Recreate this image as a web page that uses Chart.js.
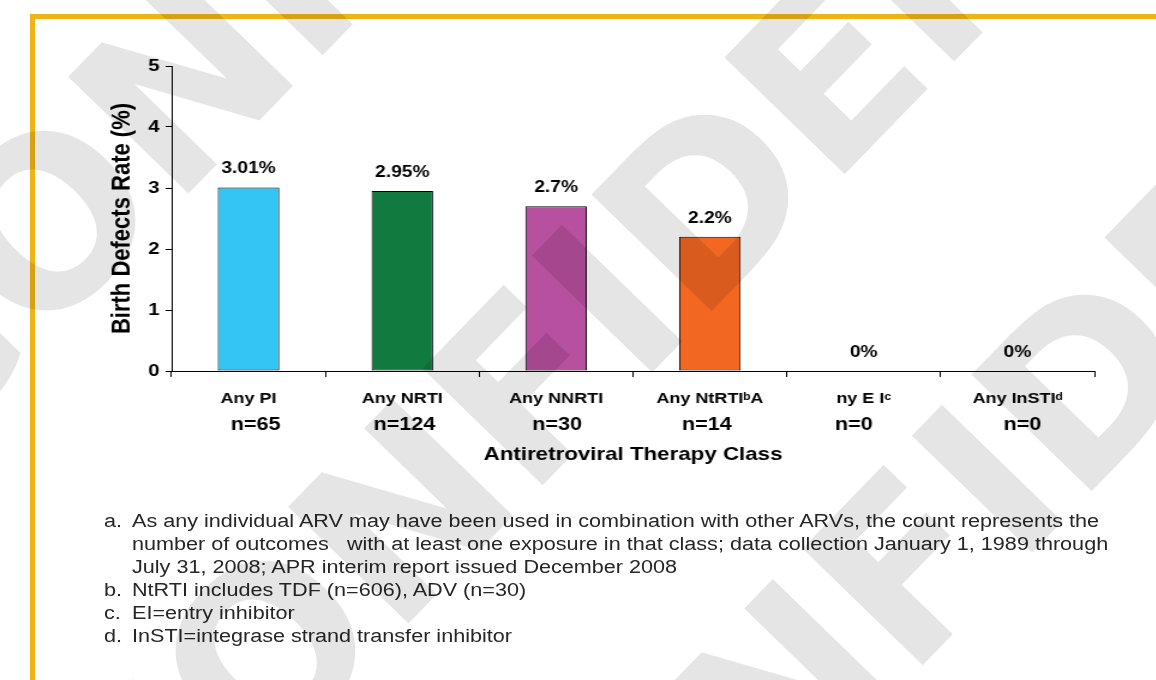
<!DOCTYPE html>
<html>
<head>
<meta charset="utf-8">
<script src="https://cdn.jsdelivr.net/npm/chart.js@4.4.1/dist/chart.umd.min.js"></script>
<style>
  html, body { margin: 0; padding: 0; background: #fff; }
  #page { position: relative; width: 1156px; height: 680px; overflow: hidden; background: #fff; }
  #stage { position: absolute; left: 0; top: 0; width: 963px; height: 680px; transform: scaleX(1.2); transform-origin: 0 0; }
  #c { position: absolute; left: 0; top: 0; width: 963px; height: 680px; }
  #notes { position: absolute; left: 86.7px; top: 509.5px; font-family: "Liberation Sans", Arial, sans-serif; font-size: 18px; line-height: 23px; color: #262626; white-space: nowrap; }
  .note { position: relative; padding-left: 23.3px; }
  .note .k { position: absolute; left: 0; top: 0; }
  .bline { position: absolute; background: #EFB516; }
  #wm { position: absolute; left: 0; top: 0; pointer-events: none; }
</style>
</head>
<body>
<div id="page">
  <div id="stage">
    <canvas id="c" width="963" height="680" style="width:963px;height:680px"></canvas>
    <div id="notes">
      <div class="note"><span class="k">a.</span>As any individual ARV may have been used in combination with other ARVs, the count represents the<br>number of outcomes&nbsp;&nbsp; with at least one exposure in that class; data collection January 1, 1989 through<br>July 31, 2008; APR interim report issued December 2008</div>
      <div class="note"><span class="k">b.</span>NtRTI includes TDF (n=606), ADV (n=30)</div>
      <div class="note"><span class="k">c.</span>EI=entry inhibitor</div>
      <div class="note"><span class="k">d.</span>InSTI=integrase strand transfer inhibitor</div>
    </div>
  </div>
  <div class="bline" style="left:30px;top:14px;width:1126px;height:5px"></div>
  <div class="bline" style="left:30px;top:14px;width:5px;height:666px"></div>
  <canvas id="wm" width="1156" height="680"></canvas>
</div>
<script>
// ---- data ----
const categories = [["Any PI"], ["Any NRTI"], ["Any NNRTI"], ["Any NtRTI\u1D47A"], ["ny E I\u1D9C"], ["Any InSTI\u1D48"]];
const rates = [3.01, 2.95, 2.7, 2.2, 0, 0];
const counts = [65, 124, 30, 14, 0, 0];
const yTicks = [0, 1, 2, 3, 4, 5];
const barColors = ["#33C6F4", "#117A3E", "#B7509F", "#F26722", "#999999", "#999999"];

const S = 1.2; // horizontal stretch of the stage
const nShift = [7, 2, 1, -3, -10, 5]; // small label nudges (screen px)
const FONT = '"Liberation Sans", Arial, Helvetica, sans-serif';

const valueLabels = {
  id: "valueLabels",
  afterDatasetsDraw(chart) {
    const ctx = chart.ctx;
    const meta = chart.getDatasetMeta(0);
    ctx.save();
    ctx.font = "bold 16px " + FONT;
    ctx.fillStyle = "#000";
    ctx.textAlign = "center";
    ctx.textBaseline = "alphabetic";
    meta.data.forEach((bar, i) => {
      ctx.fillText(rates[i] + "%", bar.x, bar.y - 14);
    });
    ctx.restore();
  }
};

const countLabels = {
  id: "countLabels",
  afterDraw(chart) {
    const ctx = chart.ctx;
    const xs = chart.scales.x;
    ctx.save();
    ctx.font = "bold 18px " + FONT;
    ctx.fillStyle = "#000";
    ctx.textAlign = "center";
    ctx.textBaseline = "alphabetic";
    counts.forEach((n, i) => {
      ctx.fillText("n=" + n, xs.getPixelForValue(i) + nShift[i] / S, xs.top + 59);
    });
    ctx.restore();
  }
};

new Chart(document.getElementById("c"), {
  type: "bar",
  data: {
    labels: categories,
    datasets: [{
      data: rates,
      backgroundColor: barColors,
      borderColor: "#000",
      borderWidth: 1,
      borderSkipped: false,
      barPercentage: 0.4,
      categoryPercentage: 1.0
    }]
  },
  options: {
    responsive: false,
    animation: false,
    devicePixelRatio: 1,
    layout: { padding: { left: 89, right: 51, top: 66, bottom: 214 } },
    plugins: { legend: { display: false }, tooltip: { enabled: false } },
    scales: {
      x: {
        afterFit(s) { s.height = 95; },
        grid: { display: true, drawOnChartArea: false, drawTicks: true, tickLength: 6, color: "#000", offset: true },
        border: { display: true, color: "#000", width: 1 },
        ticks: { font: { family: FONT, size: 15, weight: "bold" }, color: "#000", padding: 13, maxRotation: 0, autoSkip: false },
        title: { display: true, text: "Antiretroviral Therapy Class", font: { family: FONT, size: 18.6, weight: "bold" }, color: "#000", padding: { top: 0, bottom: 0 } }
      },
      y: {
        min: 0, max: 5,
        afterFit(s) { s.width = 54; },
        afterBuildTicks(s) { s.ticks = yTicks.map(v => ({ value: v })); },
        grid: { display: true, drawOnChartArea: false, drawTicks: true, tickLength: 5, color: "#000" },
        border: { display: true, color: "#000", width: 1 },
        ticks: { font: { family: FONT, size: 17, weight: "bold" }, color: "#000", padding: 5 },
        title: { display: true, text: "Birth Defects Rate (%)", font: { family: FONT, size: 22, weight: "bold" }, color: "#000", padding: { top: 0, bottom: 0 } }
      }
    }
  },
  plugins: [valueLabels, countLabels]
});

// ---- watermark overlay (decorative) ----
(function () {
  const w = document.getElementById("wm").getContext("2d");
  w.fillStyle = "rgba(0,0,0,0.10)";
  w.font = 'bold 230px "DejaVu Sans", sans-serif';
  w.textBaseline = "alphabetic";
  [[-80, 470], [140, 900], [520, 1080]].forEach(([x, y]) => {
    w.save();
    w.translate(x, y);
    w.rotate(-0.8);
    w.fillText("CONFIDENTIAL", 0, 0);
    w.restore();
  });
})();
</script>
</body>
</html>
